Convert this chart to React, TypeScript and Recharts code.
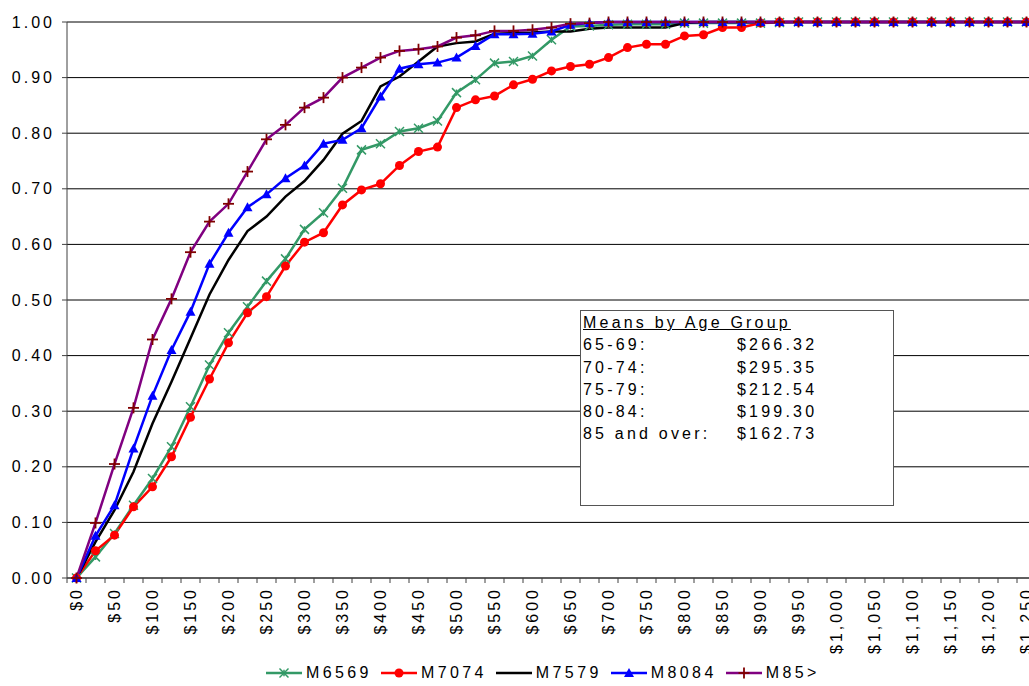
import React from 'react'
import { CartesianGrid, Line, LineChart, XAxis, YAxis } from 'recharts'

// Purchase amount categories ($25 steps)
const amounts = [
  0, 25, 50, 75, 100, 125, 150, 175, 200, 225, 250, 275, 300, 325, 350, 375, 400, 425, 450, 475, 500, 525,
  550, 575, 600, 625, 650, 675, 700, 725, 750, 775, 800, 825, 850, 875, 900, 925, 950, 975, 1000, 1025, 1050,
  1075, 1100, 1125, 1150, 1175, 1200, 1225, 1250
]

// Cumulative share by age group
const m6569 = [
  0, 0.038, 0.08, 0.131, 0.179, 0.236, 0.308, 0.383, 0.441, 0.488, 0.534, 0.574, 0.627, 0.657, 0.701, 0.77, 0.781,
  0.803, 0.809, 0.822, 0.873, 0.896, 0.926, 0.929, 0.939, 0.968, 0.992, 0.993, 0.995, 0.996, 0.996, 0.996, 0.998,
  0.998, 0.998, 0.998, 0.998, 0.999, 1, 1, 1, 1, 1, 1, 1, 1, 1, 1, 1, 1, 1
]
const m7074 = [
  0, 0.049, 0.077, 0.128, 0.164, 0.218, 0.289, 0.358, 0.423, 0.477, 0.506, 0.561, 0.604, 0.621, 0.671, 0.698, 0.709,
  0.742, 0.767, 0.775, 0.846, 0.86, 0.867, 0.887, 0.897, 0.912, 0.92, 0.924, 0.936, 0.954, 0.96, 0.96, 0.975, 0.977,
  0.99, 0.99, 0.998, 1, 1, 1, 1, 1, 1, 1, 1, 1, 1, 1, 1, 1, 1
]
const m7579 = [
  0, 0.065, 0.122, 0.191, 0.278, 0.353, 0.431, 0.51, 0.572, 0.624, 0.65, 0.686, 0.714, 0.752, 0.799, 0.822, 0.884,
  0.902, 0.929, 0.956, 0.962, 0.965, 0.979, 0.98, 0.981, 0.983, 0.983, 0.988, 0.99, 0.99, 0.99, 0.99, 0.998, 1, 1, 1,
  1, 1, 1, 1, 1, 1, 1, 1, 1, 1, 1, 1, 1, 1, 1
]
const m8084 = [
  0, 0.076, 0.131, 0.233, 0.328, 0.41, 0.479, 0.565, 0.621, 0.667, 0.69, 0.719, 0.742, 0.781, 0.788, 0.809, 0.866,
  0.916, 0.924, 0.927, 0.936, 0.957, 0.978, 0.978, 0.979, 0.983, 0.995, 0.998, 1, 1, 1, 1, 1, 1, 1, 1, 1, 1, 1, 1, 1,
  1, 1, 1, 1, 1, 1, 1, 1, 1, 1
]
const m85 = [
  0, 0.099, 0.205, 0.306, 0.429, 0.502, 0.586, 0.641, 0.673, 0.731, 0.789, 0.815, 0.846, 0.864, 0.9, 0.918, 0.936,
  0.948, 0.951, 0.956, 0.972, 0.976, 0.984, 0.984, 0.986, 0.99, 0.997, 0.998, 1, 1, 1, 1, 1, 1, 1, 1, 1, 1, 1, 1, 1,
  1, 1, 1, 1, 1, 1, 1, 1, 1, 1
]

const yTicks = [0, 0.1, 0.2, 0.3, 0.4, 0.5, 0.6, 0.7, 0.8, 0.9, 1]

// Means box
const ageGroups = ['65-69:', '70-74:', '75-79:', '80-84:', '85 and over:']
const groupMeans = [266.32, 295.35, 212.54, 199.3, 162.73]

const FONT = '"Liberation Sans", Arial, sans-serif'
const AXIS = '#404040'
const CHART_W = 1036
const CHART_H = 686
const Y_AXIS_W = 67
const STEP = (CHART_W - Y_AXIS_W) / amounts.length
const X_TICK_SIZE = 5
const X_TICK_MARGIN = 4

type MarkerKind = 'star' | 'circle' | 'none' | 'triangle' | 'plus'

interface SeriesDef {
  key: string
  values: number[]
  color: string
  marker: MarkerKind
}

const series: SeriesDef[] = [
  { key: 'M6569', values: m6569, color: '#339966', marker: 'star' },
  { key: 'M7074', values: m7074, color: '#ff0000', marker: 'circle' },
  { key: 'M7579', values: m7579, color: '#000000', marker: 'none' },
  { key: 'M8084', values: m8084, color: '#0000ff', marker: 'triangle' },
  { key: 'M85>', values: m85, color: '#800080', marker: 'plus' }
]

const chartData = amounts.map((amount, i) => {
  const row: { [key: string]: number } = { amount }
  for (const s of series) row[s.key] = s.values[i]
  return row
})

function formatDollars(v: number) {
  return `$${v.toLocaleString('en-US')}`
}

function Marker({ kind, cx, cy, color }: { kind: MarkerKind; cx: number; cy: number; color: string }) {
  if (kind === 'star') {
    const r = 4.5
    return (
      <g stroke={color} strokeWidth={1.5}>
        <line x1={cx - r} y1={cy - r} x2={cx + r} y2={cy + r} />
        <line x1={cx - r} y1={cy + r} x2={cx + r} y2={cy - r} />
        <line x1={cx} y1={cy - r * 0.7} x2={cx} y2={cy + r * 0.7} />
      </g>
    )
  }
  if (kind === 'circle') return <circle cx={cx} cy={cy} r={4.5} fill={color} />
  if (kind === 'triangle') {
    const r = 5
    return <path d={`M${cx},${cy - r}L${cx + r},${cy + r * 0.8}L${cx - r},${cy + r * 0.8}Z`} fill={color} />
  }
  if (kind === 'plus') {
    const r = 5.5
    return (
      <g stroke="#800000" strokeWidth={1.8}>
        <line x1={cx - r} y1={cy} x2={cx + r} y2={cy} />
        <line x1={cx} y1={cy - r} x2={cx} y2={cy + r} />
      </g>
    )
  }
  return null
}

function YTick(props: { x?: number; y?: number; payload?: { value: number } }) {
  const { x = 0, y = 0, payload } = props
  return (
    <text
      x={x}
      y={y}
      textAnchor="end"
      dominantBaseline="central"
      fontSize={16}
      letterSpacing={3}
      fontFamily={FONT}
      fill="#000"
    >
      {(payload?.value ?? 0).toFixed(2)}
    </text>
  )
}

function XTick(props: { x?: number; y?: number; payload?: { value: number } }) {
  const { x = 0, y = 0, payload } = props
  const value = payload?.value ?? 0
  const axisY = y - X_TICK_SIZE - X_TICK_MARGIN
  const left = x - STEP / 2
  return (
    <g>
      <line x1={left} y1={axisY} x2={left} y2={axisY + X_TICK_SIZE} stroke={AXIS} />
      {value % 50 === 0 && (
        <text
          x={x}
          y={y}
          transform={`rotate(-90 ${x} ${y})`}
          textAnchor="end"
          dominantBaseline="central"
          fontSize={16}
          letterSpacing={3}
          fontFamily={FONT}
          fill="#000"
        >
          {formatDollars(value)}
        </text>
      )}
    </g>
  )
}

function ChartLegend() {
  return (
    <div
      style={{
        position: 'absolute',
        left: 266,
        top: 663,
        display: 'flex',
        alignItems: 'center',
        fontSize: 16,
        letterSpacing: 3.4,
        lineHeight: '20px'
      }}
    >
      {series.map((s) => (
        <div key={s.key} style={{ display: 'flex', alignItems: 'center', marginRight: 9 }}>
          <svg width={36} height={14} style={{ marginRight: 4 }}>
            <line x1={0} y1={7} x2={36} y2={7} stroke={s.color} strokeWidth={2.5} />
            <Marker kind={s.marker} cx={18} cy={7} color={s.color} />
          </svg>
          <span>{s.key}</span>
        </div>
      ))}
    </div>
  )
}

function MeansBox() {
  return (
    <div
      style={{
        position: 'absolute',
        left: 580,
        top: 310,
        width: 314,
        height: 196,
        boxSizing: 'border-box',
        border: '1px solid #555',
        background: '#fff',
        padding: '1px 0 0 2px',
        fontSize: 16,
        letterSpacing: 3.2,
        lineHeight: '22.3px'
      }}
    >
      <div style={{ textDecoration: 'underline' }}>Means by Age Group</div>
      {ageGroups.map((g, i) => (
        <div key={g} style={{ display: 'flex' }}>
          <span style={{ width: 154 }}>{g}</span>
          <span>${groupMeans[i].toFixed(2)}</span>
        </div>
      ))}
    </div>
  )
}

export default function App() {
  return (
    <div
      style={{
        position: 'absolute',
        left: 0,
        top: 0,
        width: 1029,
        height: 686,
        overflow: 'hidden',
        background: '#fff',
        fontFamily: FONT,
        color: '#000'
      }}
    >
      <LineChart width={CHART_W} height={CHART_H} data={chartData} margin={{ top: 22, right: 0, bottom: 0, left: 0 }}>
        <CartesianGrid horizontal vertical={false} stroke="#000" />
        <XAxis
          dataKey="amount"
          type="category"
          interval={0}
          padding={{ left: STEP / 2, right: STEP / 2 }}
          height={108}
          tickSize={X_TICK_SIZE}
          tickMargin={X_TICK_MARGIN}
          tickLine={false}
          axisLine={{ stroke: AXIS }}
          tick={<XTick />}
        />
        <YAxis
          type="number"
          domain={[0, 1]}
          ticks={yTicks}
          interval={0}
          width={Y_AXIS_W}
          tickSize={5}
          tickMargin={7}
          tickLine={{ stroke: AXIS }}
          axisLine={{ stroke: AXIS }}
          tick={<YTick />}
        />
        {series.map((s) => (
          <Line
            key={s.key}
            dataKey={s.key}
            type="linear"
            stroke={s.color}
            strokeWidth={2.5}
            activeDot={false}
            isAnimationActive={false}
            dot={(p: { cx?: number; cy?: number; index?: number }) => (
              <Marker key={`${s.key}-${p.index}`} kind={s.marker} cx={p.cx ?? 0} cy={p.cy ?? 0} color={s.color} />
            )}
          />
        ))}
      </LineChart>
      <MeansBox />
      <ChartLegend />
    </div>
  )
}
